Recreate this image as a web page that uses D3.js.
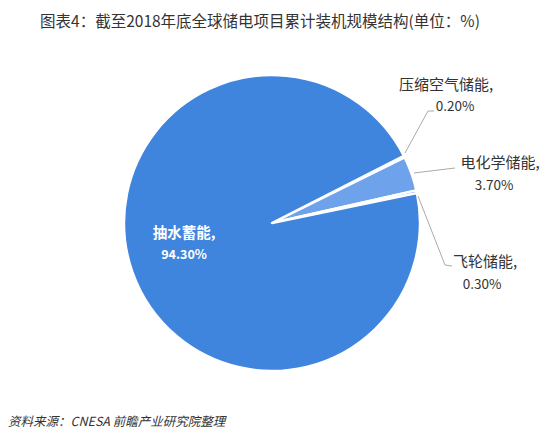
<!DOCTYPE html>
<html><head><meta charset="utf-8">
<script src="https://d3js.org/d3.v7.min.js"></script>
<style>body{margin:0;background:#fff}</style></head>
<body><svg id="c" width="545" height="443"></svg>
<script>
const categories=["压缩空气储能","电化学储能","飞轮储能","抽水蓄能"];
const values=[0.2,3.7,0.3,94.3];
const labels=["0.20%","3.70%","0.30%","94.30%"];
const colors=["#3f85de","#6ea2ea","#3f85de","#3f85de"];
const svg=d3.select("#c");
const font="'Microsoft YaHei','Noto Sans CJK SC',sans-serif";
svg.append("text").attr("x",260).attr("y",27).attr("text-anchor","middle").attr("font-family",font).attr("font-size",15.5).attr("fill","#333").text("图表4：截至2018年底全球储电项目累计装机规模结构(单位：%)");
const cx=272,cy=223,r=148;
const a0=63*Math.PI/180;
const pie=d3.pie().sort(null).value(d=>d).startAngle(a0).endAngle(a0+2*Math.PI);
const arcs=pie(values);
const arc=d3.arc().innerRadius(0).outerRadius(r);
const g=svg.append("g").attr("transform",`translate(${cx},${cy})`);
g.selectAll("path").data(arcs).join("path").attr("d",arc).attr("fill",(d,i)=>colors[i]).attr("stroke","#fff").attr("stroke-width",2.5).attr("stroke-linejoin","round");
const lines=[[[405,153],[428,111],[434,111]],[[414,173],[455,168]],[[418,196],[445,265],[452,266]]];
lines.forEach(p=>svg.append("polyline").attr("points",p.map(q=>q.join(",")).join(" ")).attr("fill","none").attr("stroke","#aaa").attr("stroke-width",1));
const lab=[[446,90,455,111],[500,168,494,190],[485,267,482,289]];
[0,1,2].forEach(i=>{
 svg.append("text").attr("x",lab[i][0]).attr("y",lab[i][1]).attr("text-anchor","middle").attr("font-family",font).attr("font-size",15).attr("fill","#333").text(categories[i]+",");
 svg.append("text").attr("x",lab[i][2]).attr("y",lab[i][3]).attr("text-anchor","middle").attr("font-family",font).attr("font-size",13.5).attr("fill","#333").text(labels[i]);
});
svg.append("text").attr("x",184).attr("y",238).attr("text-anchor","middle").attr("font-family",font).attr("font-size",14.5).attr("font-weight","bold").attr("fill","#fff").text(categories[3]+",");
svg.append("text").attr("x",184).attr("y",259).attr("text-anchor","middle").attr("font-family",font).attr("font-size",12.5).attr("font-weight","bold").attr("fill","#fff").text(labels[3]);
svg.append("text").attr("x",8).attr("y",426).attr("font-family",font).attr("font-size",12.5).attr("font-style","italic").attr("fill","#333").text("资料来源：CNESA 前瞻产业研究院整理");
</script></body></html>
